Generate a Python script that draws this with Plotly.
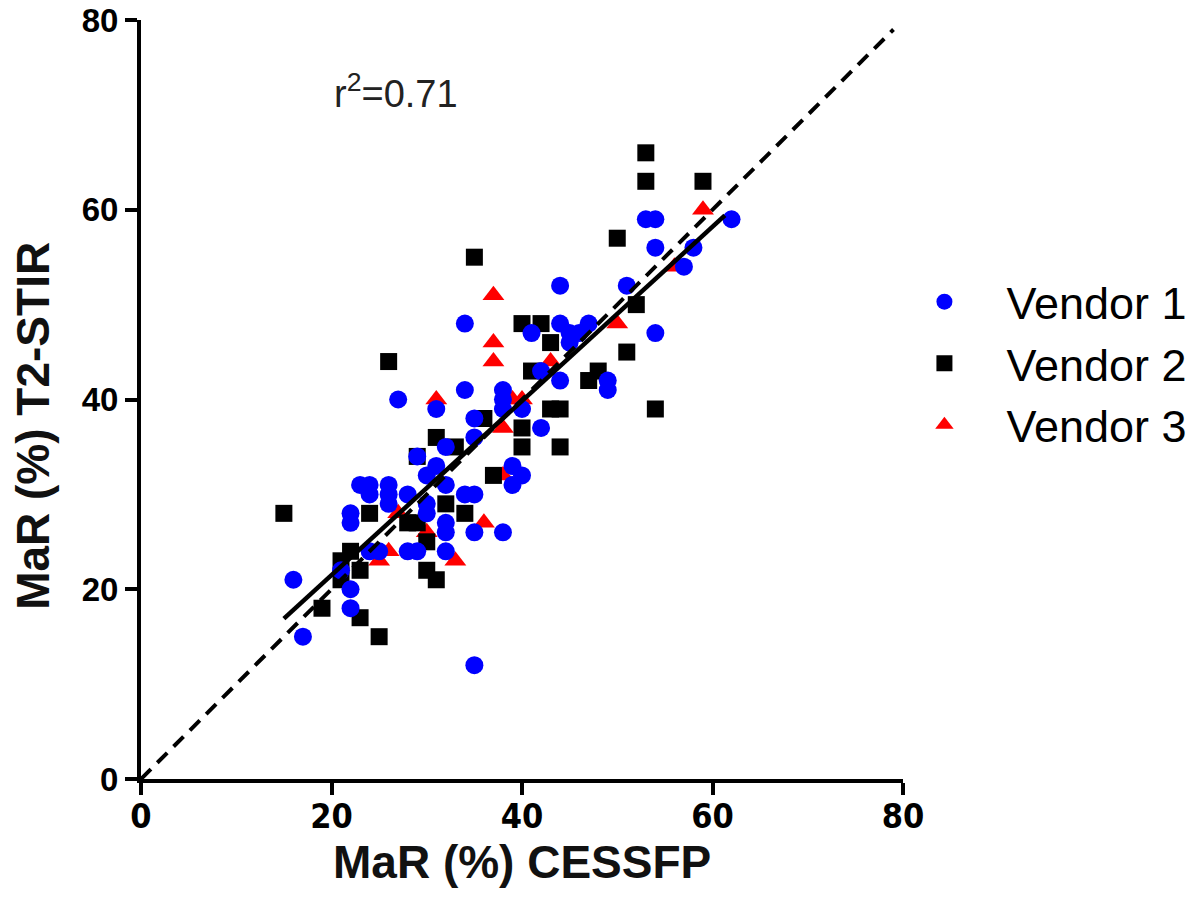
import plotly.graph_objects as go

# Vendor 1 (blue circles)
v1_x = [16, 17, 22, 22, 21, 22, 22, 23, 24, 24, 26, 26, 26, 28, 30, 30, 30, 24, 25, 28, 29, 29, 31, 32,
        32, 32, 32, 34, 35, 35, 38, 35, 39, 40, 39, 32, 34, 34, 27, 31, 38, 38, 38, 40, 35, 35, 41, 44,
        44, 45, 45, 46, 47, 42, 44, 42, 49, 49, 54, 51, 53, 54, 62, 54, 58, 57]
v1_y = [21, 15, 20, 18, 22, 28, 27, 31, 31, 30, 31, 30, 29, 30, 32, 29, 28, 24, 24, 24, 24, 34, 33, 35,
        27, 26, 24, 30, 30, 26, 26, 12, 33, 32, 31, 31, 48, 41, 40, 39, 41, 40, 39, 39, 38, 36, 47, 52,
        48, 47, 46, 47, 48, 43, 42, 37, 42, 41, 47, 52, 59, 59, 59, 56, 56, 54]

# Vendor 2 (black squares)
v2_x = [15, 19, 21, 21, 22, 23, 23, 25, 24, 26, 28, 29, 30, 30, 31, 32, 34, 37, 29, 31, 33, 36, 35,
        40, 42, 43, 41, 43, 44, 40, 40, 44, 54, 47, 48, 51, 52, 50, 53, 53, 59]
v2_y = [28, 18, 23, 21, 24, 22, 17, 15, 28, 44, 27, 27, 25, 22, 21, 29, 28, 32, 34, 36, 35, 38, 55,
        48, 48, 46, 43, 39, 39, 37, 35, 35, 39, 42, 43, 45, 50, 57, 66, 63, 63]

# Vendor 3 (red triangles)
v3_x = [25, 26, 27, 30, 33, 36, 31, 37, 37, 37, 38, 39, 40, 38, 43, 50, 56, 59]
v3_y = [23, 24, 28, 26, 23, 27, 40, 51, 46, 44, 37, 40, 40, 32, 44, 48, 54, 60]

# Regression line (solid) and identity line (dashed)
fit_x = [15, 61.3]
fit_y = [16.9, 59.4]
ident_x = [0, 79]
ident_y = [0, 79]

x_ticks = [0, 20, 40, 60, 80]
y_ticks = [0, 20, 40, 60, 80]

fig = go.Figure()
fig.add_trace(go.Scatter(x=v3_x, y=v3_y, mode="markers", name="Vendor 3", legendgroup="g3",
                         marker=dict(symbol="triangle-up", size=19, color="#FF0000")))
fig.add_trace(go.Scatter(x=v2_x, y=v2_y, mode="markers", name="Vendor 2", legendgroup="g2",
                         marker=dict(symbol="square", size=17, color="#000000")))
fig.add_trace(go.Scatter(x=v1_x, y=v1_y, mode="markers", name="Vendor 1", legendgroup="g1",
                         marker=dict(symbol="circle", size=18, color="#0000FF")))
fig.add_trace(go.Scatter(x=ident_x, y=ident_y, mode="lines", showlegend=False,
                         line=dict(color="black", width=4, dash="14px,9px")))
fig.add_trace(go.Scatter(x=fit_x, y=fit_y, mode="lines", showlegend=False,
                         line=dict(color="black", width=4.5)))

fig.add_annotation(x=20, y=72.5, xref="x", yref="y", text="r<sup>2</sup>=0.71", showarrow=False,
                   xanchor="left", yanchor="middle",
                   font=dict(family="Liberation Sans, Arial", size=38, color="#222222"))

# axis titles
fig.add_annotation(x=0.5, y=-0.109, xref="paper", yref="paper", text="MaR (%) CESSFP",
                   showarrow=False, xanchor="center", yanchor="middle",
                   font=dict(family="Liberation Sans, Arial", size=46, color="#111111", weight="bold"))
fig.add_annotation(x=-0.142, y=0.465, xref="paper", yref="paper", text="MaR (%) T2-STIR",
                   showarrow=False, xanchor="center", yanchor="middle", textangle=-90,
                   font=dict(family="Liberation Sans, Arial", size=46, color="#111111", weight="bold"))

fig.update_layout(
    width=1200, height=909,
    paper_bgcolor="white", plot_bgcolor="white",
    margin=dict(l=133, r=305, t=12, b=138, autoexpand=False),
    font=dict(family="Liberation Sans, Arial", color="black"),
    legend=dict(x=0.973, y=0.676, xanchor="left", yanchor="top", traceorder="reversed",
                bgcolor="rgba(0,0,0,0)",
                tracegroupgap=15, itemwidth=114, font=dict(size=45, color="black"), itemsizing="trace"),
    xaxis=dict(range=[0, 80], tickvals=x_ticks, showgrid=False, zeroline=False, automargin=False,
               showline=True, linecolor="black", linewidth=4,
               ticks="outside", ticklen=12, tickwidth=4, tickcolor="black",
               ticklabeloverflow="allow", ticklabelstandoff=-8,
               tickfont=dict(size=34, family="DejaVu Sans Condensed, Liberation Sans, Arial",
                             color="black", weight="bold")),
    yaxis=dict(range=[0, 80], tickvals=y_ticks, showgrid=False, zeroline=False, automargin=False,
               showline=True, linecolor="black", linewidth=4,
               ticks="outside", ticklen=12, tickwidth=4, tickcolor="black",
               ticklabeloverflow="allow",
               tickfont=dict(size=33, family="Liberation Sans, Arial", color="black", weight="bold")),
)

fig.write_html("out.html")
